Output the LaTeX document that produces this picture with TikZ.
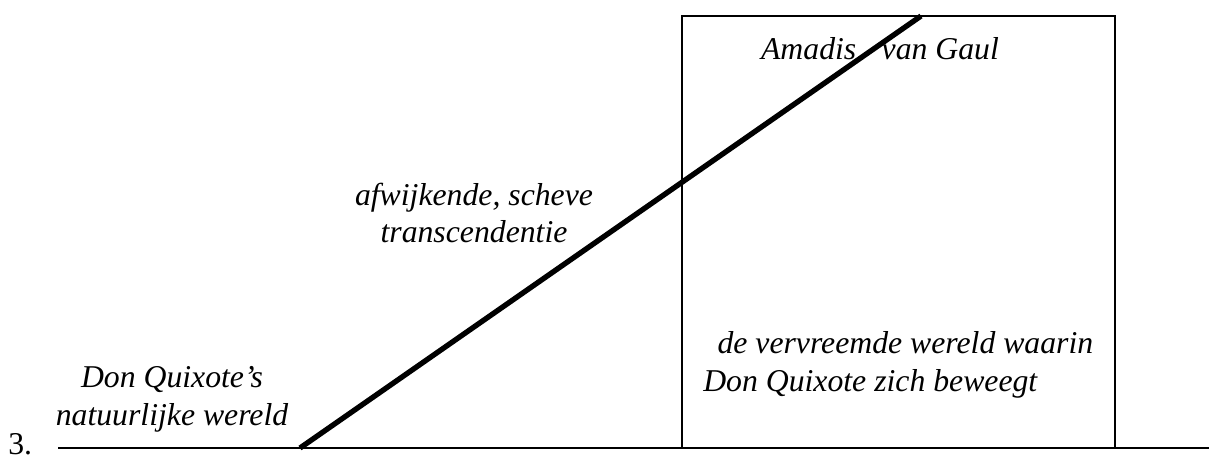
\documentclass[tikz,border=0pt]{standalone}
\usepackage{fontspec}
\setmainfont{Liberation Serif}
\usepackage{tikz}
\usetikzlibrary{positioning}

\begin{document}
\begin{tikzpicture}[
    x=0.75pt, y=-0.75pt,
    caption/.style={font=\fontsize{23.8}{28}\selectfont\itshape, align=center, inner sep=0pt, anchor=base},
    frameline/.style={draw=black, line width=1.4pt},
    leapline/.style={draw=black, line width=4pt}
]
    \useasboundingbox (0,0) rectangle (1209,459);

    % ground and the box of the other world
    \coordinate (groundL) at (58,448);
    \coordinate (groundR) at (1209,448);
    \coordinate (boxTL) at (682,16);
    \coordinate (boxBR) at (1115,448);
    \draw[frameline] (groundL) -- (groundR);
    \draw[frameline] (boxTL) rectangle (boxBR);

    % the skew line
    \coordinate (leapLow) at (300,448);
    \coordinate (leapHigh) at (921,16);
    \draw[leapline] (leapLow) -- (leapHigh);

    \node[font=\fontsize{23.8}{28}\selectfont, inner sep=0pt, anchor=base west] (num) at (8,454) {3.};
    \node[caption] (natural) at (172,425) {Don Quixote’s\\natuurlijke wereld};
    \node[caption] (skew) at (474,243) {afwijkende, scheve\\transcendentie};
    \node[caption] (amadis) at (880,60) {Amadis\hspace{0.8em}van Gaul};
    \node[caption, align=left, anchor=base west] (alien) at (703,391) {\hspace*{0.45em}de vervreemde wereld waarin\\Don Quixote zich beweegt};
\end{tikzpicture}
\end{document}
